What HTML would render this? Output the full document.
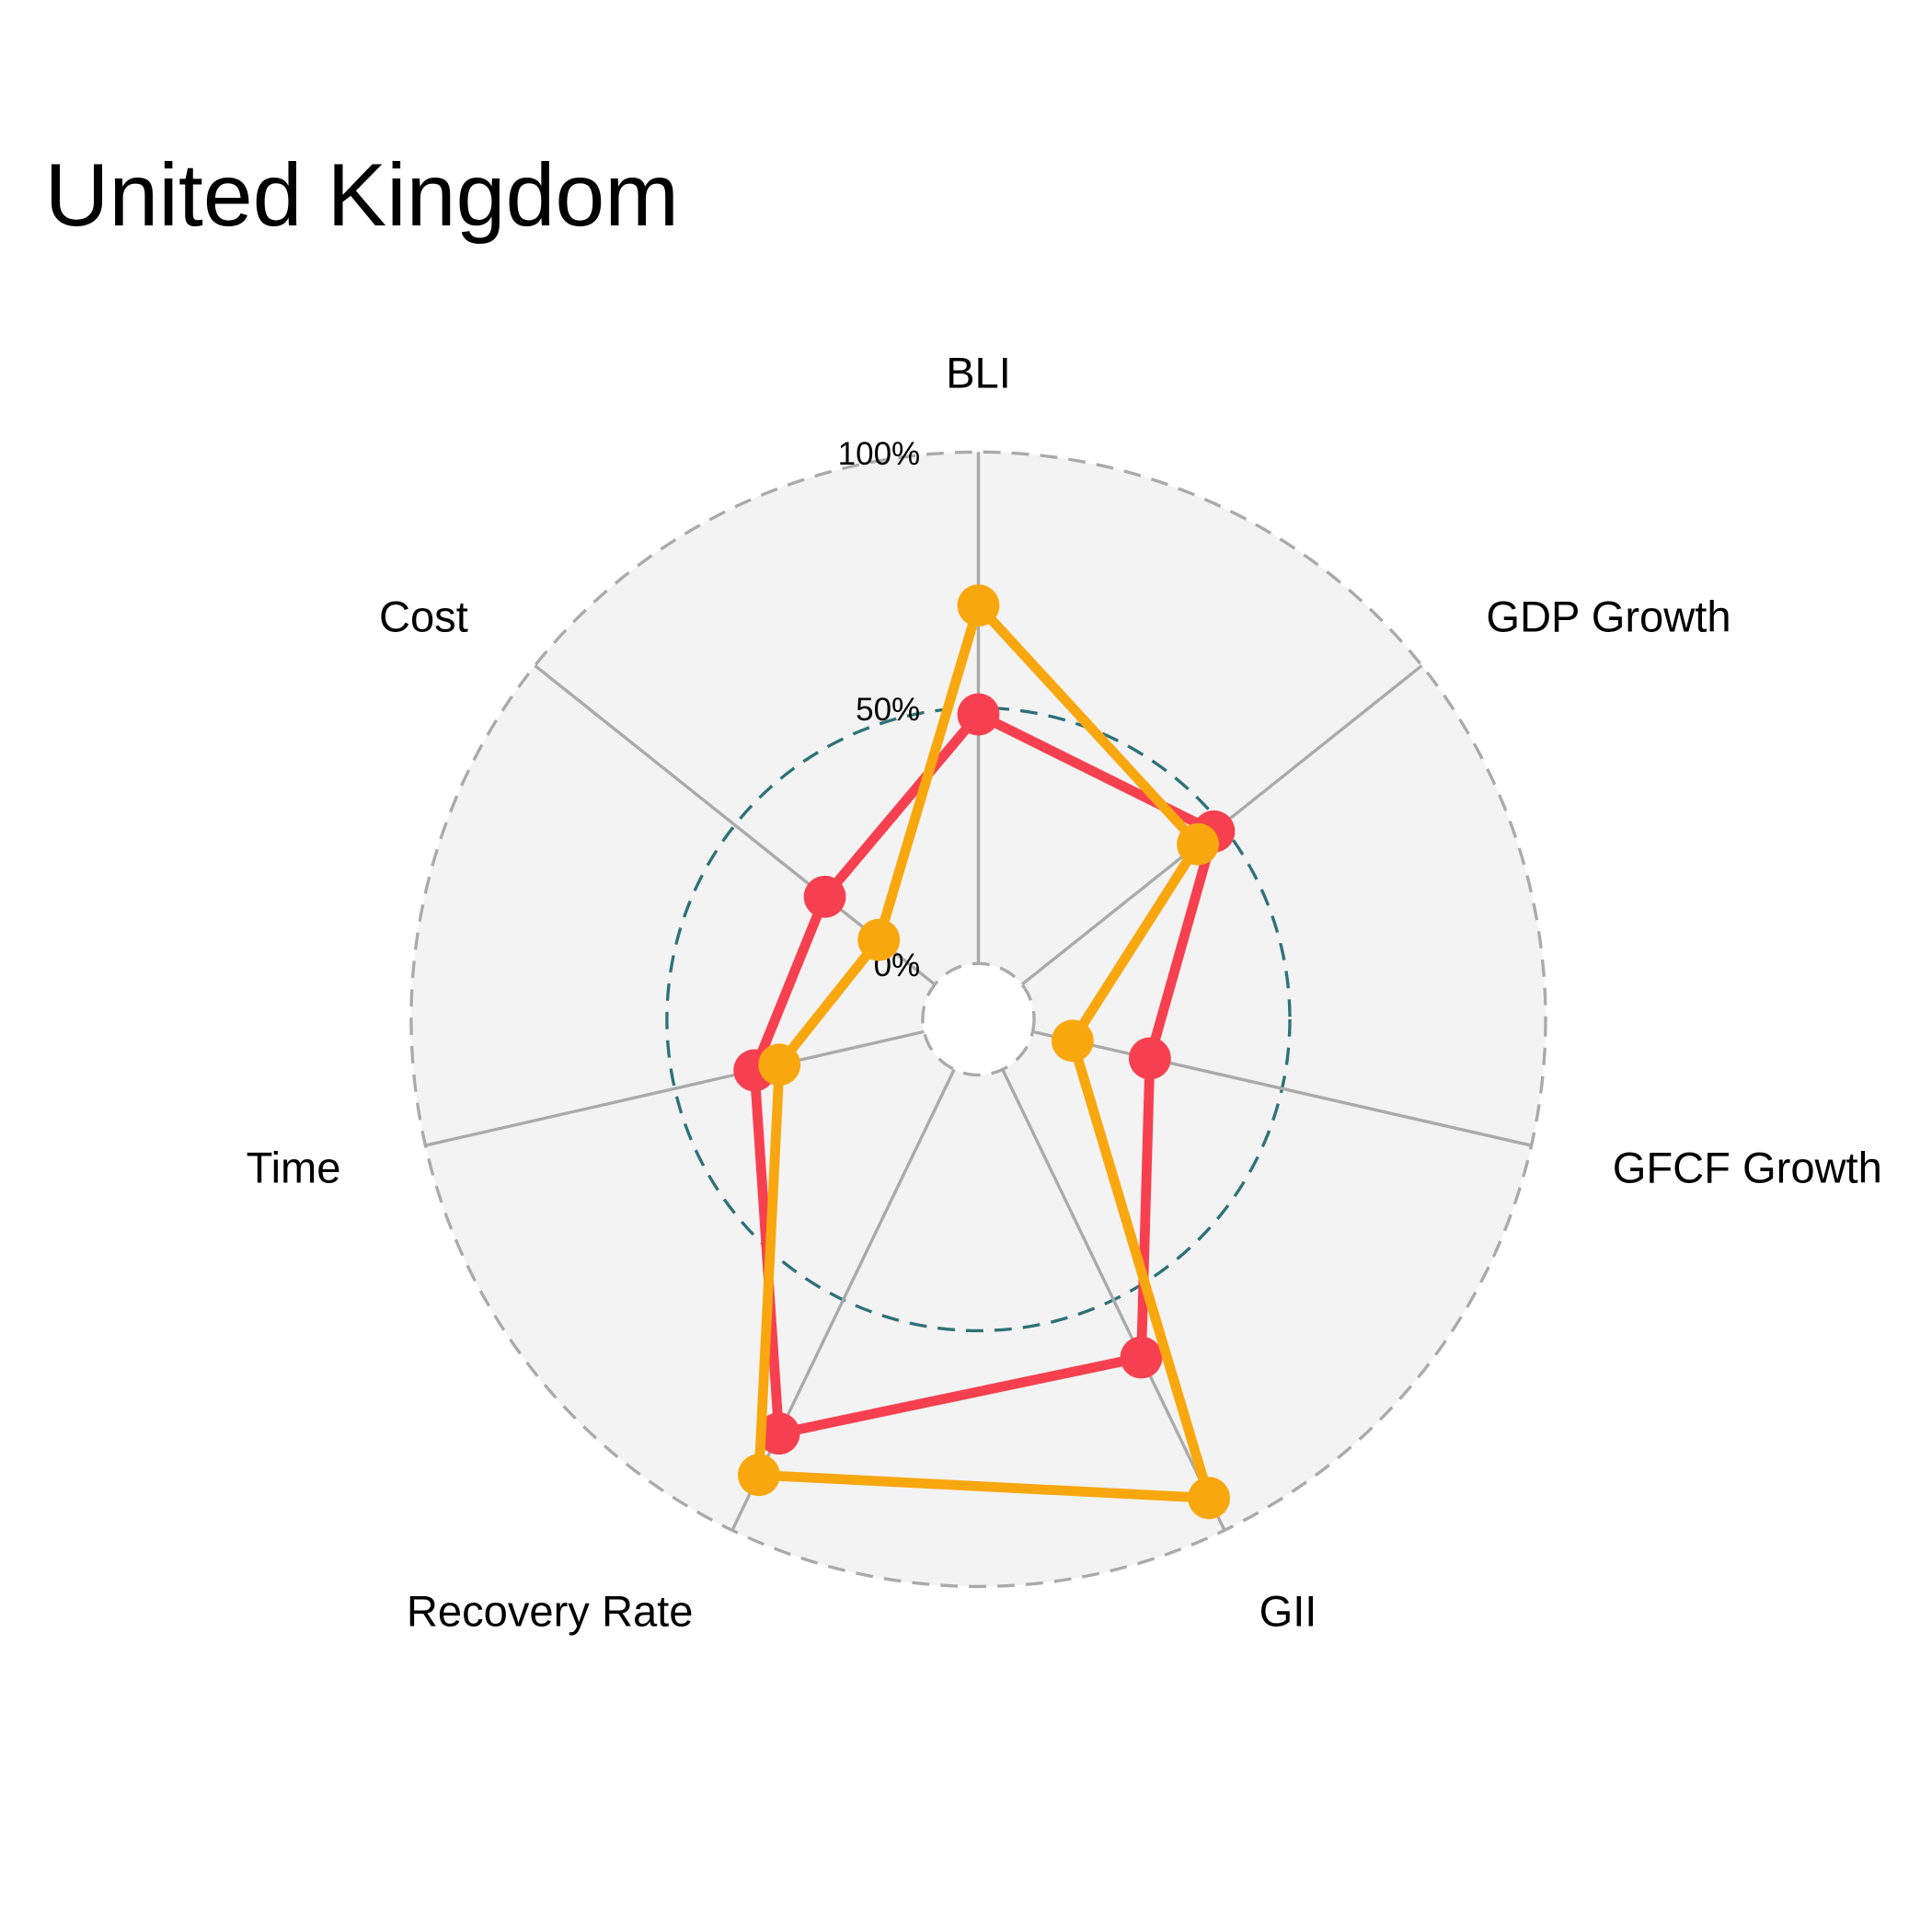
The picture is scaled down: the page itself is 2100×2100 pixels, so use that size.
<!DOCTYPE html>
<html><head><meta charset="utf-8"><style>
html,body{margin:0;padding:0;background:#fff;}
svg{display:block;font-family:"Liberation Sans",sans-serif;}
</style></head><body>
<svg id="chart" width="2100" height="2100" viewBox="0 0 1560 1560" xmlns="http://www.w3.org/2000/svg">
<text x="36" y="182" font-size="72" fill="#000">United Kingdom</text>
<g id="grid"></g>
<g id="series"></g>
<g id="labels"></g>
</svg>
<script>
const categories = ["BLI","GDP Growth","GFCF Growth","GII","Recovery Rate","Time","Cost"];
const seriesRed = [0.487,0.48,0.235,0.625,0.79,0.34,0.275];
const seriesOrange = [0.70,0.44,0.08,0.93,0.88,0.29,0.14];
const tickValues = [0,0.5,1];
const tickLabels = ["0%","50%","100%"];

const NS="http://www.w3.org/2000/svg";
const cx=790, cy=823, r0=45, r1=458;
function rad(v){return r0+v*(r1-r0);}
function ang(i){return -Math.PI/2 + i*2*Math.PI/categories.length;}
function pt(i,v){const a=ang(i),r=rad(v);return [cx+r*Math.cos(a),cy+r*Math.sin(a)];}
function mk(tag,attrs,parent){const e=document.createElementNS(NS,tag);for(const k in attrs)e.setAttribute(k,attrs[k]);parent.appendChild(e);return e;}

const grid=document.getElementById('grid');
let bg=mk('circle',{cx:cx,cy:cy,r:r1,fill:'#f3f3f3',stroke:'#aaaaaa','stroke-width':2.5,'stroke-dasharray':'14,9'},grid);


let mid=mk('circle',{cx:cx,cy:cy,r:rad(0.5),fill:'none',stroke:'#2e7178','stroke-width':2.5,'stroke-dasharray':'14,9'},grid);


categories.forEach((c,i)=>{
  const a=pt(i,0),b=pt(i,1);
  const l=mk('line',{x1:a[0],y1:a[1],x2:b[0],y2:b[1],stroke:'#aaaaaa','stroke-width':2.5},grid);
  
  
});
let inner=mk('circle',{cx:cx,cy:cy,r:r0,fill:'#fff',stroke:'#aaaaaa','stroke-width':2.5,'stroke-dasharray':'14,9'},grid);


tickValues.forEach((v,i)=>{
  const t=mk('text',{x:743,y:cy-rad(v)+10,'font-size':26,'text-anchor':'end',fill:'#000'},grid);
  t.textContent=tickLabels[i];
  
  
});

const sg=document.getElementById('series');
function drawSeries(vals,color,name){
  const pts=vals.map((v,i)=>pt(i,v));
  const poly=mk('polygon',{points:pts.map(p=>p.join(',')).join(' '),fill:'none',stroke:color,'stroke-width':8,'stroke-linejoin':'round'},sg);
  
  
  pts.forEach(p=>{
    const c=mk('circle',{cx:p[0],cy:p[1],r:17,fill:color},sg);
    
    
  });
}
drawSeries(seriesRed,'#f7404f','series-red');
drawSeries(seriesOrange,'#f9a70f','series-orange');

const lg=document.getElementById('labels');
const labelPos=[[790,313,'middle'],[1200,510,'start'],[1302,955,'start'],[1040,1313,'middle'],[444,1313,'middle'],[237,955,'middle'],[342,510,'middle']];
categories.forEach((c,i)=>{
  const p=labelPos[i];
  const t=mk('text',{x:p[0],y:p[1],'font-size':35,'text-anchor':p[2],fill:'#000'},lg);
  t.textContent=c;
  
  
});
</script>
</body></html>
